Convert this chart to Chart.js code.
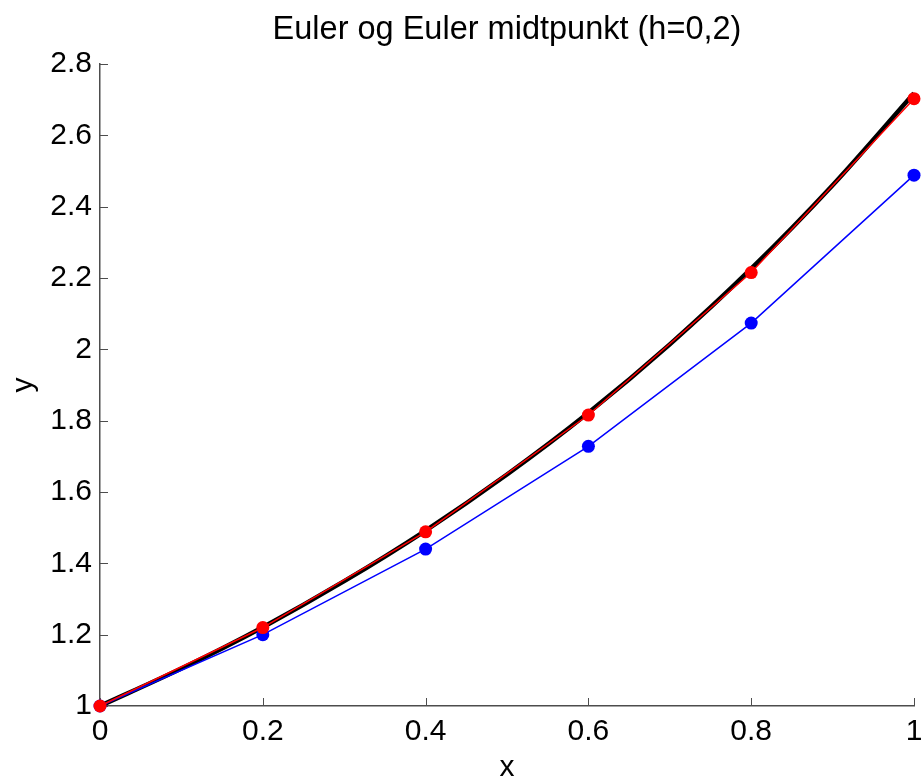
<!DOCTYPE html>
<html>
<head>
<meta charset="utf-8">
<title>Euler og Euler midtpunkt</title>
<script src="https://cdn.jsdelivr.net/npm/chart.js@4"></script>
<style>
  html, body { margin: 0; padding: 0; background: #fff; }
  #wrap { width: 922px; height: 780px; }
</style>
</head>
<body>
<div id="wrap"><canvas id="eulerChart"></canvas></div>
<script>
// ---- data ----
const xSteps = [0, 0.2, 0.4, 0.6, 0.8, 1];
const eulerY = [1, 1.2, 1.44, 1.728, 2.0736, 2.4883];
const midpointY = [1, 1.22, 1.4884, 1.8158, 2.2153, 2.7027];
const exactX = [0, 0.1, 0.2, 0.3, 0.4, 0.5, 0.6, 0.7, 0.8, 0.9, 1];
const exactY = [1, 1.105, 1.221, 1.35, 1.492, 1.649, 1.822, 2.014, 2.226, 2.46, 2.718];
const xTickLabels = ["0", "0.2", "0.4", "0.6", "0.8", "1"];
const yTickLabels = ["1", "1.2", "1.4", "1.6", "1.8", "2", "2.2", "2.4", "2.6", "2.8"];

const FONT = "'Liberation Sans', Arial, Helvetica, sans-serif";
const AXIS = "#4d4d4d";

const toPts = (xs, ys) => xs.map((x, i) => ({ x: x, y: ys[i] }));

// tick marks pointing into the plot, like matlab
const innerTicks = {
  id: "innerTicks",
  beforeDatasetsDraw(chart) {
    const { ctx, chartArea, scales } = chart;
    const len = 8;
    ctx.save();
    ctx.strokeStyle = AXIS;
    ctx.lineWidth = 1;
    scales.x.ticks.forEach(t => {
      const px = Math.round(scales.x.getPixelForValue(t.value)) + 0.5;
      ctx.beginPath();
      ctx.moveTo(px, chartArea.bottom);
      ctx.lineTo(px, chartArea.bottom - len);
      ctx.stroke();
    });
    scales.y.ticks.forEach(t => {
      const py = Math.round(scales.y.getPixelForValue(t.value)) + 0.5;
      ctx.beginPath();
      ctx.moveTo(chartArea.left, py);
      ctx.lineTo(chartArea.left + len, py);
      ctx.stroke();
    });
    ctx.restore();
  }
};

const ctx = document.getElementById("eulerChart").getContext("2d");
new Chart(ctx, {
  type: "line",
  data: {
    datasets: [
      {
        label: "Euler midtpunkt",
        data: toPts(xSteps, midpointY),
        borderColor: "#ff0000",
        backgroundColor: "#ff0000",
        borderWidth: 1.5,
        pointRadius: 6.5,
        pointBorderWidth: 0,
        tension: 0,
        clip: false
      },
      {
        label: "Euler",
        data: toPts(xSteps, eulerY),
        borderColor: "#0000ff",
        backgroundColor: "#0000ff",
        borderWidth: 1.5,
        pointRadius: 6.5,
        pointBorderWidth: 0,
        tension: 0,
        clip: false
      },
      {
        label: "Eksakt",
        data: toPts(exactX, exactY),
        borderColor: "#000000",
        borderWidth: 4.5,
        pointRadius: 0,
        cubicInterpolationMode: "monotone",
        clip: false
      }
    ]
  },
  options: {
    responsive: true,
    maintainAspectRatio: false,
    animation: false,
    layout: { padding: { left: 0, right: 0, top: 0, bottom: 0 } },
    plugins: {
      legend: { display: false },
      tooltip: { enabled: false },
      title: {
        display: true,
        fullSize: false,
        text: "Euler og Euler midtpunkt (h=0,2)",
        color: "#000",
        font: { family: FONT, size: 32.5, weight: "normal", lineHeight: 1.2 },
        padding: { top: 11, bottom: 14 }
      }
    },
    scales: {
      x: {
        type: "linear",
        min: 0,
        max: 1,
        ticks: {
          stepSize: 0.2,
          color: "#000",
          padding: 8,
          maxRotation: 0,
          font: { family: FONT, size: 30 },
          callback: (v, i) => xTickLabels[i]
        },
        grid: { drawOnChartArea: false, drawTicks: false },
        border: { color: AXIS, width: 1.5 },
        title: {
          display: true,
          text: "x",
          color: "#000",
          font: { family: FONT, size: 30, lineHeight: 0.8 },
          padding: { top: 0, bottom: 0 }
        },
        afterFit: s => {
          s.height = 74;
          s.paddingLeft = 0;
          s.paddingRight = 8;
        }
      },
      y: {
        type: "linear",
        min: 1,
        max: 2.8,
        ticks: {
          stepSize: 0.2,
          color: "#000",
          padding: 8,
          font: { family: FONT, size: 30 },
          callback: (v, i) => yTickLabels[i]
        },
        grid: { drawOnChartArea: false, drawTicks: false },
        border: { color: AXIS, width: 1.5 },
        title: {
          display: true,
          text: "y",
          color: "#000",
          font: { family: FONT, size: 30 },
          padding: { top: 6, bottom: 0 }
        },
        afterFit: s => { s.width = 100; }
      }
    }
  },
  plugins: [innerTicks]
});
</script>
</body>
</html>
